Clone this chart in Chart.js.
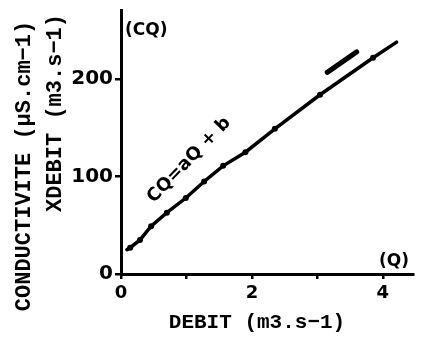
<!DOCTYPE html>
<html>
<head>
<meta charset="utf-8">
<script src="https://cdn.jsdelivr.net/npm/chart.js@4/dist/chart.umd.min.js"></script>
<style>
  html, body { margin: 0; padding: 0; background: #fff; }
  #wrap { width: 426px; height: 345px; position: relative; }
</style>
</head>
<body>
<div id="wrap"><canvas id="c" width="426" height="345"></canvas></div>
<script>
// ---- data ----
const debit = [0.09, 0.14, 0.29, 0.46, 0.70, 0.99, 1.27, 1.56, 1.90, 2.35, 3.04, 3.85, 4.21];
const cqFlux = [25, 27, 35, 49, 63, 78, 95, 111, 125, 149, 184, 222, 238];
const markerShown = [false, true, true, true, true, true, true, true, true, true, true, true, false];
const dashDebit = [3.15, 3.60];
const dashCQ = [207, 228];
const xTickValues = [0, 1, 2, 3, 4];
const xTickLabels = ['0', '', '2', '', '4'];
const yTickValues = [0, 100, 200];
const yTitleLines = ['CONDUCTIVITE (µS.cm−1)', 'XDEBIT (m3.s−1)'];
const xTitle = 'DEBIT (m3.s−1)';
const yAxisName = '(CQ)';
const xAxisName = '(Q)';
const eqLabel = 'CQ=aQ + b';
const eqAnchor = [1.04, 117];
const qNameAnchor = [4.17, 13];

const mainPts = debit.map((q, i) => ({ x: q, y: cqFlux[i] }));
const dashPts = dashDebit.map((q, i) => ({ x: q, y: dashCQ[i] }));

const textPlugin = {
  id: 'texts',
  afterDraw(chart) {
    const ctx = chart.ctx;
    const xs = chart.scales.x, ys = chart.scales.y;
    const ca = chart.chartArea;
    ctx.save();
    ctx.fillStyle = '#000';
    // y titles (rotated)
    ctx.font = 'bold 22px "Liberation Mono", monospace';
    ctx.textAlign = 'center';
    ctx.textBaseline = 'middle';
    const yCenters = [[24, 166], [55, 113]];
    yTitleLines.forEach((t, i) => {
      ctx.save();
      ctx.translate(yCenters[i][0], yCenters[i][1]);
      ctx.rotate(-Math.PI / 2);
      ctx.fillText(t, 0, 0);
      ctx.restore();
    });
    // x title
    ctx.font = 'bold 21px "Liberation Mono", monospace';
    ctx.fillText(xTitle, 257, 323);
    // axis names
    ctx.font = 'bold 17px "DejaVu Sans", sans-serif';
    ctx.textAlign = 'left';
    ctx.fillText(yAxisName, ca.left + 4, ca.top + 21);
    ctx.textAlign = 'center';
    ctx.fillText(xAxisName, xs.getPixelForValue(qNameAnchor[0]), ys.getPixelForValue(qNameAnchor[1]));
    // equation label
    ctx.save();
    ctx.translate(xs.getPixelForValue(eqAnchor[0]), ys.getPixelForValue(eqAnchor[1]));
    ctx.rotate(-46 * Math.PI / 180);
    ctx.font = 'bold 18px "DejaVu Sans", sans-serif';
    ctx.fillText(eqLabel, 0, 0);
    ctx.restore();
    ctx.restore();
  }
};

new Chart(document.getElementById('c'), {
  type: 'scatter',
  data: {
    datasets: [
      {
        data: mainPts,
        showLine: true,
        borderColor: '#000',
        backgroundColor: '#000',
        borderWidth: 3.5,
        borderCapStyle: 'round',
        pointRadius: markerShown.map(s => s ? 3 : 0),
        pointBorderWidth: 0,
        tension: 0
      },
      {
        data: dashPts,
        showLine: true,
        borderColor: '#000',
        backgroundColor: '#000',
        borderWidth: 5,
        borderCapStyle: 'round',
        pointRadius: 0
      }
    ]
  },
  options: {
    responsive: false,
    animation: false,
    events: [],
    layout: { padding: { left: 61, top: 10, right: 13, bottom: 31 } },
    plugins: { legend: { display: false }, tooltip: { enabled: false } },
    scales: {
      x: {
        type: 'linear',
        min: 0,
        max: 4.46,
        afterBuildTicks(s) { s.ticks = xTickValues.map(v => ({ value: v })); },
        afterFit(s) { s.height = 40; s.paddingLeft = 0; s.paddingRight = 0; s.paddingTop = 0; s.paddingBottom = 0; },
        grid: { drawOnChartArea: false, drawTicks: true, tickLength: 5, color: '#000', lineWidth: 2.5 },
        border: { display: true, color: '#000', width: 3 },
        ticks: {
          color: '#000',
          padding: 4,
          maxRotation: 0,
          autoSkip: false,
          font: { family: 'DejaVu Sans', weight: 'bold', size: 18, lineHeight: 1.2 },
          callback: (v, i) => xTickLabels[i]
        }
      },
      y: {
        type: 'linear',
        min: 0,
        max: 271,
        afterBuildTicks(s) { s.ticks = yTickValues.map(v => ({ value: v })); },
        afterFit(s) { s.width = 60; s.paddingLeft = 0; s.paddingRight = 0; s.paddingTop = 0; s.paddingBottom = 0; },
        grid: { drawOnChartArea: false, drawTicks: true, tickLength: 6, color: '#000', lineWidth: 2.5 },
        border: { display: true, color: '#000', width: 3 },
        ticks: {
          color: '#000',
          padding: 2,
          autoSkip: false,
          font: { family: 'DejaVu Sans', weight: 'bold', size: 20, lineHeight: 1 },
          callback: (v) => String(v)
        }
      }
    }
  },
  plugins: [textPlugin]
});
</script>
</body>
</html>
